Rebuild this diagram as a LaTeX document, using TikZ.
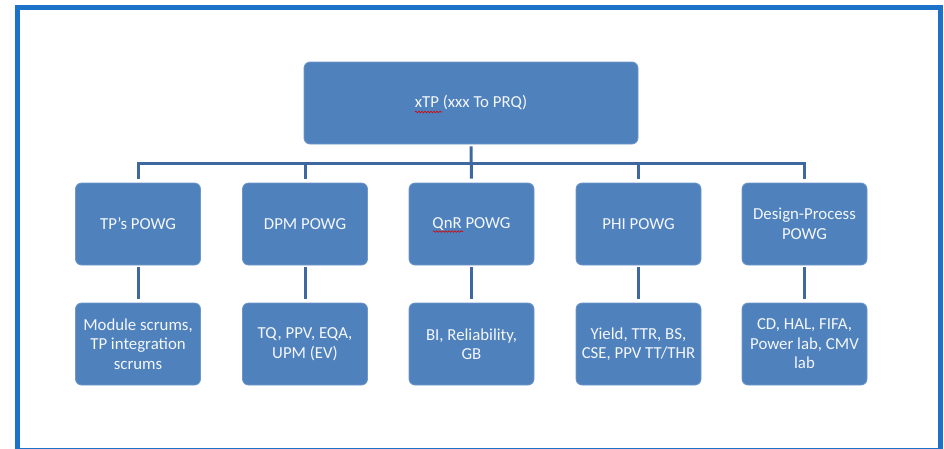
\documentclass[tikz,border=0pt]{standalone}
\usepackage{fontspec}
\setmainfont{Carlito}
\usetikzlibrary{decorations.pathmorphing}
\definecolor{boxfill}{HTML}{4F81BD}
\definecolor{boxedge}{HTML}{6F97C9}
\definecolor{wire}{HTML}{3E689F}
\definecolor{framecol}{HTML}{1C72C8}
\definecolor{boxtext}{HTML}{F4F7FB}
\tikzset{
  orgbox/.style={rounded corners=6pt, fill=boxfill, draw=boxedge, line width=0.8pt,
    text=boxtext, font=\fontsize{16.8}{19.5}\selectfont, align=center,
    minimum width=125pt, minimum height=82pt, inner sep=2pt},
  wireline/.style={draw=wire, line width=3pt},
  spellmark/.style={draw=red!85!black, line width=0.6pt, decorate,
    decoration={snake, amplitude=0.8pt, segment length=3pt}}
}
\begin{document}
\begin{tikzpicture}[x=1pt,y=-1pt]
\useasboundingbox (0,0) rectangle (944,448);
\clip (0,0) rectangle (944,448);
% outer frame
\draw[framecol, line width=5pt] (17.5,7.5) rectangle (940.5,450.5);

% root
\node[orgbox, minimum width=334pt] (top) at (471,103) {xTP (xxx To PRQ)};

% working groups
\node[orgbox] (p1) at (138,224)   {TP’s POWG};
\node[orgbox] (p2) at (305,224)   {DPM POWG};
\node[orgbox] (p3) at (471.5,224) {QnR POWG};
\node[orgbox] (p4) at (638.5,224) {PHI POWG};
\node[orgbox] (p5) at (804.5,224) {Design-Process\\POWG};

% scopes
\node[orgbox] (c1) at (138,344)   {Module scrums,\\TP integration\\scrums};
\node[orgbox] (c2) at (305,344)   {TQ, PPV, EQA,\\UPM (EV)};
\node[orgbox] (c3) at (471.5,344) {BI, Reliability,\\GB};
\node[orgbox] (c4) at (638.5,344) {Yield, TTR, BS,\\CSE, PPV TT/THR};
\node[orgbox] (c5) at (804.5,344) {CD, HAL, FIFA,\\Power lab, CMV\\lab};

% spell-check marks
\draw[spellmark] ([shift={(-56,9)}]top.center) -- ([shift={(-29,9)}]top.center);
\draw[spellmark] ([shift={(-38.5,7.5)}]p3.center) -- ([shift={(-8.5,7.5)}]p3.center);

% connectors
\coordinate (bus) at (0,163);
\draw[wireline, shorten <=2pt, shorten >=4pt] (top.south) -- (p3.north);
\draw[wireline, shorten <=4pt, shorten >=4pt]
  (p1.north) -- (p1.north |- bus) -- (p5.north |- bus) -- (p5.north);
\foreach \i in {2,4} {
  \draw[wireline, shorten >=4pt] (p\i.north |- bus) -- (p\i.north);
}
\foreach \i in {1,...,5} {
  \draw[wireline, shorten <=2pt, shorten >=4pt] (p\i.south) -- (c\i.north);
}
\end{tikzpicture}
\end{document}
